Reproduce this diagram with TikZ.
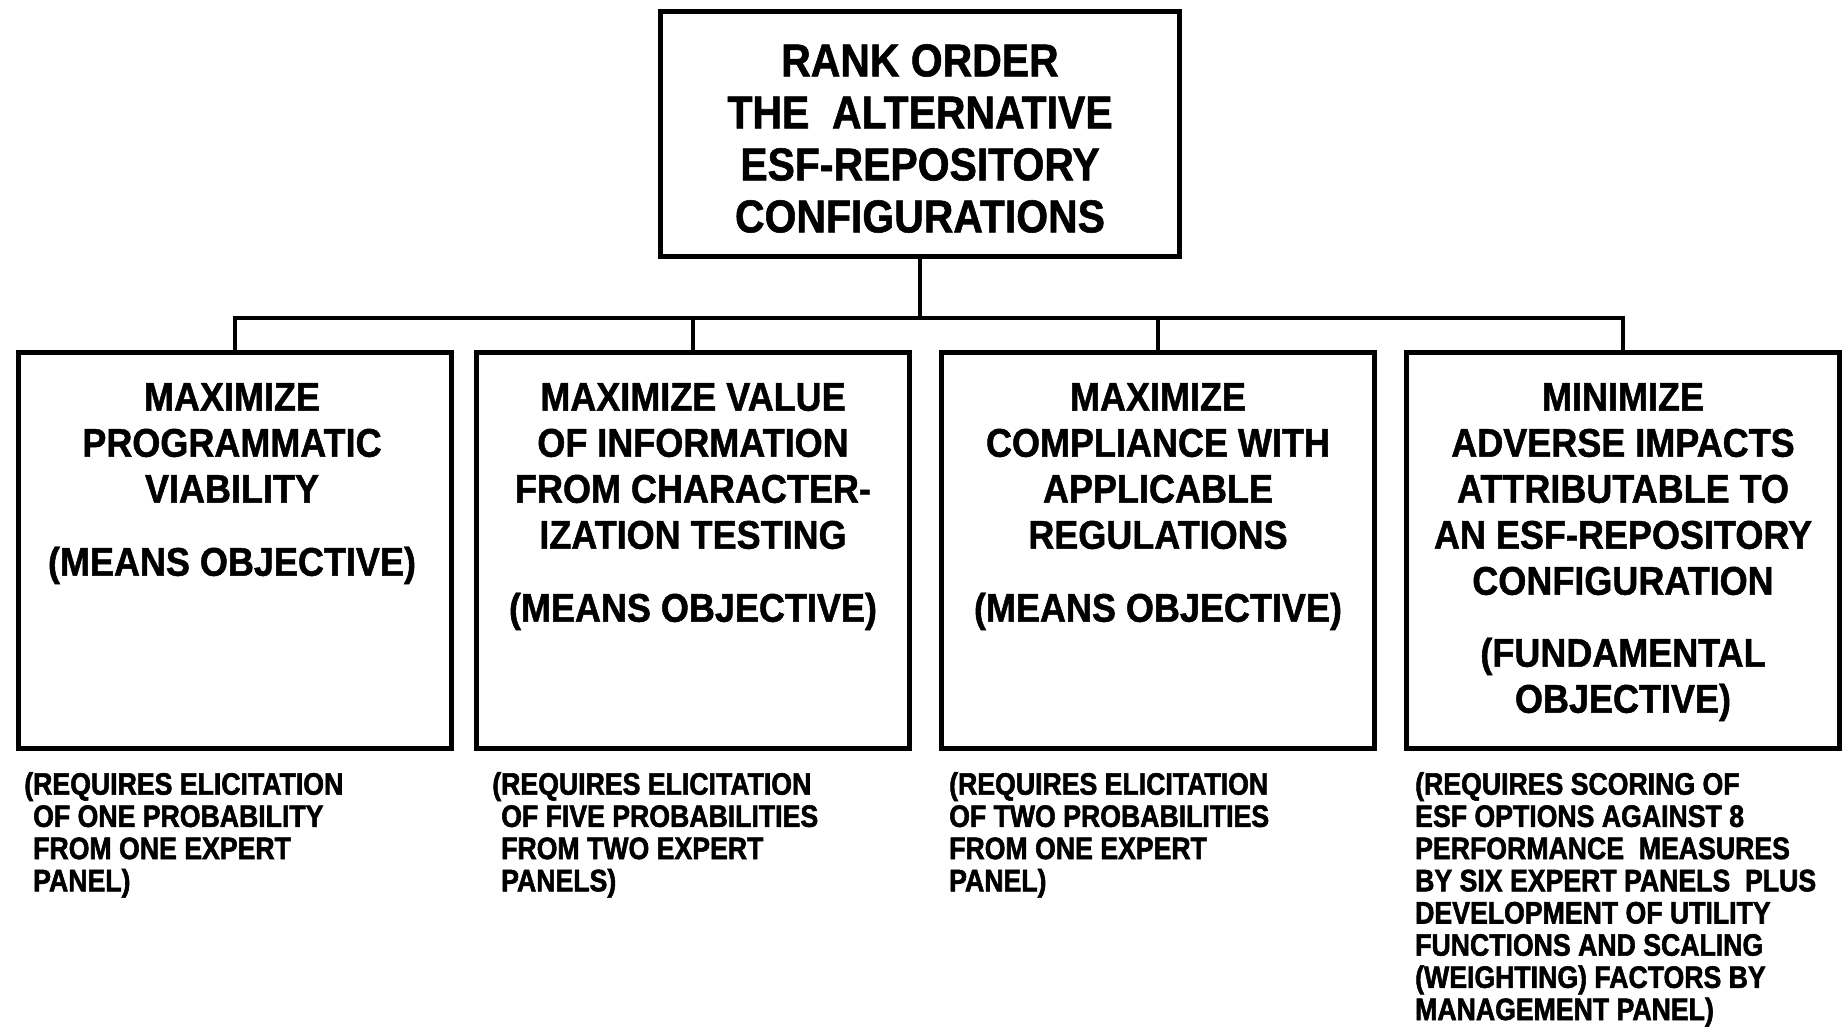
\documentclass[tikz,border=0pt]{standalone}
\usepackage{fontspec}
\newfontfamily\titlefont[FakeStretch=0.89,FakeBold=1.2]{Liberation Sans}
\newfontfamily\goalfont[FakeStretch=0.90,FakeBold=1.2]{Liberation Sans}
\newfontfamily\notefont[FakeStretch=0.86,FakeBold=1.8]{Liberation Sans}
\begin{document}
\begin{tikzpicture}[x=1pt,y=-1pt,
  box/.style={draw=black, line width=5pt, rectangle, inner sep=0pt},
  goalbox/.style={box, minimum width=433pt, minimum height=396pt},
  conn/.style={draw=black, line width=4pt},
  toptext/.style={inner sep=0pt, anchor=north, align=center,
    font=\titlefont\bfseries\fontsize{46}{52}\selectfont},
  goaltext/.style={inner sep=0pt, anchor=north, align=center,
    font=\goalfont\bfseries\fontsize{40}{46}\selectfont},
  notetext/.style={inner sep=0pt, anchor=north west, align=left,
    font=\notefont\bfseries\fontsize{31}{32.2}\selectfont}]
\useasboundingbox (0,0) rectangle (1848,1028);

% root objective
\node[box, minimum width=519pt, minimum height=245pt] (top) at (920,134) {};
\node[toptext] (toplabel) at (920,44)
  {RANK ORDER\\THE~~ALTERNATIVE\\ESF-REPOSITORY\\CONFIGURATIONS};

% sub-objectives
\node[goalbox] (b1) at (234.5,550) {};
\node[goalbox] (b2) at (693,550) {};
\node[goalbox] (b3) at (1158,550) {};
\node[goalbox] (b4) at (1623,550) {};

\node[goaltext] (g1) at (232,383)
  {MAXIMIZE\\PROGRAMMATIC\\VIABILITY\\[27pt](MEANS OBJECTIVE)};
\node[goaltext] (g2) at (693,383)
  {MAXIMIZE VALUE\\OF INFORMATION\\FROM CHARACTER-\\IZATION TESTING\\[27pt](MEANS OBJECTIVE)};
\node[goaltext] (g3) at (1158,383)
  {MAXIMIZE\\COMPLIANCE WITH\\APPLICABLE\\REGULATIONS\\[27pt](MEANS OBJECTIVE)};
\node[goaltext] (g4) at (1623,383)
  {MINIMIZE\\ADVERSE IMPACTS\\ATTRIBUTABLE TO\\AN ESF-REPOSITORY\\CONFIGURATION\\[26pt](FUNDAMENTAL\\OBJECTIVE)};

% tree connectors
\coordinate (bus) at (920,318);
\draw[conn] (top.south) -- (bus);
\draw[conn, line cap=rect] (b1.north) -- (b1.north |- bus) -- (b4.north |- bus) -- (b4.north);
\draw[conn] (b2.north) -- (b2.north |- bus);
\draw[conn] (b3.north) -- (b3.north |- bus);

% elicitation notes
\node[notetext] (n1) at (33,772)
  {\llap{(}REQUIRES ELICITATION\\OF ONE PROBABILITY\\FROM ONE EXPERT\\PANEL)};
\node[notetext] (n2) at (501,772)
  {\llap{(}REQUIRES ELICITATION\\OF FIVE PROBABILITIES\\FROM TWO EXPERT\\PANELS)};
\node[notetext] (n3) at (949,772)
  {(REQUIRES ELICITATION\\OF TWO PROBABILITIES\\FROM ONE EXPERT\\PANEL)};
\node[notetext] (n4) at (1415,772)
  {(REQUIRES SCORING OF\\ESF OPTIONS AGAINST 8\\PERFORMANCE~~MEASURES\\BY SIX EXPERT PANELS~~PLUS\\DEVELOPMENT OF UTILITY\\FUNCTIONS AND SCALING\\(WEIGHTING) FACTORS BY\\MANAGEMENT PANEL)};
\end{tikzpicture}
\end{document}
